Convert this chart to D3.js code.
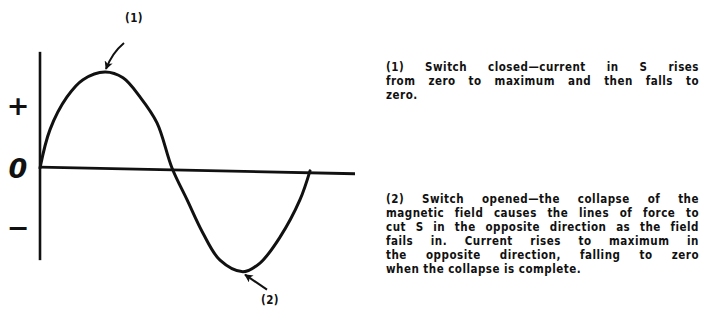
<!DOCTYPE html>
<html>
<head>
<meta charset="utf-8">
<script src="https://cdn.jsdelivr.net/npm/d3@7"></script>
<style>
  body { margin: 0; background: #fff; }
  svg { display: block; }
  .note { font-family: "DejaVu Sans Condensed", "DejaVu Sans", sans-serif; font-weight: 700; font-size: 11.5px; letter-spacing: 0.5px; fill: #111; }
  .sign { font-family: "DejaVu Sans", sans-serif; font-weight: 700; fill: #111; }
</style>
</head>
<body>
<div id="chart"></div>
<script>
"use strict"
// Current in S against time (time in arbitrary units, current relative to peak)
var times   = [0, 10, 27, 43, 65, 83, 100, 117, 132, 147, 163, 180, 203, 220, 240, 260, 270];
var current = [0, 0.40, 0.74, 0.92, 1.0, 0.94, 0.74, 0.47, 0, -0.33, -0.68, -0.96, -1.08, -0.99, -0.72, -0.33, -0.03];

// Left-hand sign labels and where they sit on the current axis
var tickValues = [0.64, 0, -0.63];
var tickLabels = ["+", "0", "\u2212"];

// Callout labels: which sample point each arrow points at
var calloutLabels = ["(1)", "(2)"];
var calloutIndex = [4, 12];

var noteLines1 = [
  "(1) Switch closed\u2014current in S rises",
  "from zero to maximum and then falls to",
  "zero."
];
var noteLines2 = [
  "(2) Switch opened\u2014the collapse of the",
  "magnetic field causes the lines of force to",
  "cut S in the opposite direction as the field",
  "fails in.  Current rises to maximum in",
  "the opposite direction, falling to zero",
  "when the collapse is complete."
];

var width = 703, height = 323;
var xScale = d3.scaleLinear().domain([0, 315]).range([40, 355]);
var yScale = d3.scaleLinear().domain([-1, 1]).range([264, 72]);

var svg = d3.select("#chart").append("svg")
  .attr("width", width)
  .attr("height", height);

var data = times.map(function (t, i) { return [t, current[i]]; });

// axes: plain lines, no ticks
svg.append("line")
  .attr("x1", xScale(0)).attr("x2", xScale(0))
  .attr("y1", yScale(1.21)).attr("y2", yScale(-0.96))
  .attr("stroke", "#111").attr("stroke-width", 2.6);

svg.append("line")
  .attr("x1", xScale(0)).attr("x2", xScale(315))
  .attr("y1", yScale(0.01)).attr("y2", yScale(-0.06))
  .attr("stroke", "#111").attr("stroke-width", 2.8);

// sign labels
svg.selectAll(".sign")
  .data(tickValues)
  .enter().append("text")
  .attr("class", "sign")
  .attr("x", 18)
  .attr("y", function (d) { return yScale(d); })
  .attr("dy", function (d, i) { return i === 1 ? "0.36em" : "0.33em"; })
  .attr("text-anchor", "middle")
  .attr("font-size", 27)
  .attr("font-style", function (d, i) { return i === 1 ? "italic" : null; })
  .text(function (d, i) { return tickLabels[i]; });

// the wave
var line = d3.line()
  .x(function (d) { return xScale(d[0]); })
  .y(function (d) { return yScale(d[1]); })
  .curve(d3.curveCatmullRom.alpha(0.5));

svg.append("path")
  .datum(data)
  .attr("d", line)
  .attr("fill", "none")
  .attr("stroke", "#111")
  .attr("stroke-width", 3)
  .attr("stroke-linejoin", "round")
  .attr("stroke-linecap", "round");

// arrows
svg.append("defs").append("marker")
  .attr("id", "head")
  .attr("viewBox", "0 0 10 10")
  .attr("refX", 9).attr("refY", 5)
  .attr("markerWidth", 4.2).attr("markerHeight", 4.2)
  .attr("orient", "auto")
  .append("path")
  .attr("d", "M0,0 L10,5 L0,10 L2.5,5 Z")
  .attr("fill", "#111");

var p1 = data[calloutIndex[0]], p2 = data[calloutIndex[1]];
var tip1 = [xScale(p1[0]) + 1, yScale(p1[1]) - 3];
var tip2 = [xScale(p2[0]) + 2, yScale(p2[1]) + 3];

svg.append("path")
  .attr("d", "M" + (tip1[0] + 18) + "," + (tip1[1] - 26) +
             " Q" + (tip1[0] + 6) + "," + (tip1[1] - 16) + " " + tip1[0] + "," + tip1[1])
  .attr("fill", "none").attr("stroke", "#111").attr("stroke-width", 2)
  .attr("marker-end", "url(#head)");

svg.append("path")
  .attr("d", "M" + (tip2[0] + 22) + "," + (tip2[1] + 15) + " L" + tip2[0] + "," + tip2[1])
  .attr("fill", "none").attr("stroke", "#111").attr("stroke-width", 2)
  .attr("marker-end", "url(#head)");

svg.append("text").attr("class", "note")
  .attr("x", tip1[0] + 28).attr("y", 22)
  .attr("text-anchor", "middle")
  .text(calloutLabels[0]);

svg.append("text").attr("class", "note")
  .attr("x", tip2[0] + 25).attr("y", 304)
  .attr("text-anchor", "middle")
  .text(calloutLabels[1]);

// justified notes on the right
var noteLeft = 386, noteRight = 699, lineGap = 14;

function drawNote(lines, top) {
  lines.forEach(function (ln, i) {
    var y = top + i * lineGap;
    var words = ln.split(/\s+/);
    var g = svg.append("g");
    var widths = words.map(function (w) {
      var t = g.append("text").attr("class", "note").text(w);
      var wd = t.node().getComputedTextLength();
      t.remove();
      return wd;
    });
    var last = i === lines.length - 1;
    var total = d3.sum(widths);
    var gap = last ? 4 : (noteRight - noteLeft - total) / Math.max(1, words.length - 1);
    var x = noteLeft;
    words.forEach(function (w, j) {
      g.append("text").attr("class", "note")
        .attr("x", x).attr("y", y)
        .text(w);
      x += widths[j] + gap;
    });
  });
}

drawNote(noteLines1, 71);
drawNote(noteLines2, 203);
</script>
</body>
</html>
